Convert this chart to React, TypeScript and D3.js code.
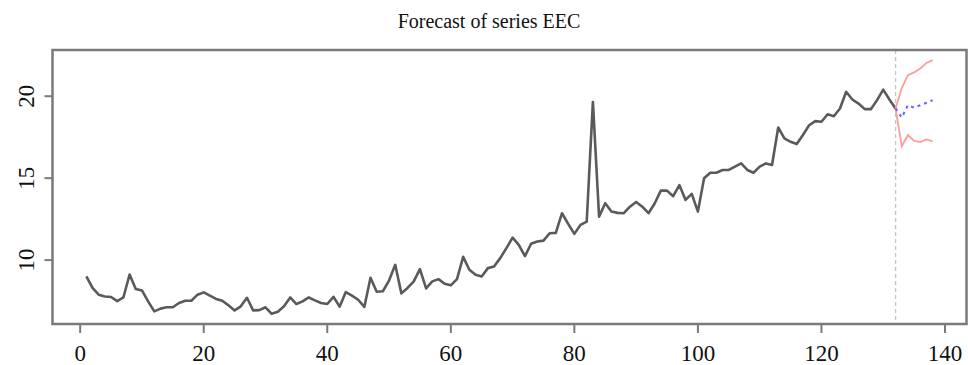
import React, { useEffect, useRef } from 'react';
import * as d3 from 'd3';

// observed series EEC, t = 1..132
const observed: number[] = [
    9.0, 8.3, 7.89, 7.78, 7.75, 7.5, 7.72, 9.12, 8.24, 8.15,
    7.48, 6.87, 7.04, 7.12, 7.12, 7.38, 7.52, 7.52, 7.89, 8.03,
    7.83, 7.63, 7.52, 7.24, 6.93, 7.18, 7.7, 6.93, 6.95, 7.12,
    6.72, 6.85, 7.18, 7.72, 7.32, 7.48, 7.72, 7.54, 7.38, 7.32,
    7.76, 7.16, 8.05, 7.83, 7.58, 7.14, 8.92, 8.07, 8.1, 8.75,
    9.71, 7.97, 8.3, 8.7, 9.45, 8.27, 8.7, 8.84, 8.56, 8.46,
    8.84, 10.2, 9.41, 9.1, 9.0, 9.51, 9.61, 10.12, 10.73, 11.37,
    10.93, 10.24, 11.0, 11.13, 11.19, 11.64, 11.66, 12.86, 12.21, 11.6,
    12.15, 12.35, 19.65, 12.65, 13.47, 12.96, 12.88, 12.86, 13.26, 13.55,
    13.26, 12.86, 13.45, 14.24, 14.24, 13.9, 14.58, 13.67, 14.04, 12.96,
    14.99, 15.33, 15.33, 15.5, 15.5, 15.7, 15.9, 15.5, 15.33, 15.7,
    15.9, 15.8, 18.09, 17.43, 17.22, 17.08, 17.63, 18.23, 18.48, 18.44,
    18.9, 18.78, 19.25, 20.27, 19.8, 19.55, 19.21, 19.21, 19.76, 20.4,
    19.8, 19.25
];

// forecast horizon t = 133..138
const forecastMean: number[] = [18.7, 19.45, 19.3, 19.45, 19.6, 19.76];
const forecastUpper: number[] = [20.5, 21.28, 21.45, 21.69, 22.03, 22.2];
const forecastLower: number[] = [16.95, 17.63, 17.27, 17.2, 17.36, 17.24];

const xTicks: number[] = [0, 20, 40, 60, 80, 100, 120, 140];
const yTicks: number[] = [10, 15, 20];

const title = 'Forecast of series EEC';

const App: React.FC = () => {
    const svgRef = useRef<SVGSVGElement>(null);

    useEffect(() => {
        if (!svgRef.current) return;

        d3.select(svgRef.current).selectAll('*').remove();

        const width = 968;
        const height = 365;
        const plot = { left: 52.5, right: 966.5, top: 50, bottom: 324 };
        const font = "'Liberation Serif', 'Times New Roman', serif";

        const n = observed.length;
        const hist: [number, number][] = observed.map((v, i) => [i + 1, v]);
        const last: [number, number] = [n, observed[n - 1]];
        const toPts = (arr: number[]): [number, number][] =>
            [last, ...arr.map((v, i) => [n + i + 1, v] as [number, number])];

        const mean = toPts(forecastMean);
        const upper = toPts(forecastUpper);
        const lower = toPts(forecastLower);

        // R style axis: 4% padding on each side
        const xMin = 1;
        const xMax = n + forecastMean.length;
        const xPad = (xMax - xMin) * 0.04;
        const allY = [...observed, ...forecastUpper, ...forecastLower];
        const yMin = d3.min(allY) as number;
        const yMax = d3.max(allY) as number;
        const yPad = (yMax - yMin) * 0.04;

        const x = d3.scaleLinear()
            .domain([xMin - xPad, xMax + xPad])
            .range([plot.left, plot.right]);
        const y = d3.scaleLinear()
            .domain([yMin - yPad, yMax + yPad])
            .range([plot.bottom, plot.top]);

        const line = d3.line<[number, number]>()
            .x(d => x(d[0]))
            .y(d => y(d[1]));

        const svg = d3.select(svgRef.current)
            .attr('width', width)
            .attr('height', height);

        svg.append('rect')
            .attr('width', width)
            .attr('height', height)
            .attr('fill', '#fff');

        // title
        svg.append('text')
            .attr('x', 489)
            .attr('y', 28)
            .attr('text-anchor', 'middle')
            .attr('font-family', font)
            .attr('font-size', 20)
            .attr('fill', '#111')
            .text(title);

        // forecast origin marker
        svg.append('line')
            .attr('x1', x(n)).attr('x2', x(n))
            .attr('y1', plot.top).attr('y2', plot.bottom)
            .attr('stroke', '#c4c4c4')
            .attr('stroke-width', 1.3)
            .attr('stroke-dasharray', '4,3');

        // observed series
        svg.append('path')
            .datum(hist)
            .attr('d', line)
            .attr('fill', 'none')
            .attr('stroke', '#5a5a5a')
            .attr('stroke-width', 2.6)
            .attr('stroke-linejoin', 'round');

        // prediction bands
        [upper, lower].forEach(band => {
            svg.append('path')
                .datum(band)
                .attr('d', line)
                .attr('fill', 'none')
                .attr('stroke', '#ff9c9c')
                .attr('stroke-width', 1.8);
        });

        // point forecast
        svg.append('path')
            .datum(mean)
            .attr('d', line)
            .attr('fill', 'none')
            .attr('stroke', '#6a6aff')
            .attr('stroke-width', 2.2)
            .attr('stroke-dasharray', '3,4');

        // box
        svg.append('rect')
            .attr('x', plot.left)
            .attr('y', plot.top)
            .attr('width', plot.right - plot.left)
            .attr('height', plot.bottom - plot.top)
            .attr('fill', 'none')
            .attr('stroke', '#7a7a7a')
            .attr('stroke-width', 2.5);

        // x axis
        const gx = svg.append('g');
        gx.selectAll('line')
            .data(xTicks)
            .enter()
            .append('line')
            .attr('x1', d => x(d)).attr('x2', d => x(d))
            .attr('y1', plot.bottom).attr('y2', plot.bottom + 9)
            .attr('stroke', '#7a7a7a')
            .attr('stroke-width', 2);
        gx.selectAll('text')
            .data(xTicks)
            .enter()
            .append('text')
            .attr('x', d => x(d))
            .attr('y', 361)
            .attr('text-anchor', 'middle')
            .attr('font-family', font)
            .attr('font-size', 23)
            .attr('fill', '#111')
            .text(d => d);

        // y axis
        const gy = svg.append('g');
        gy.selectAll('line')
            .data(yTicks)
            .enter()
            .append('line')
            .attr('x1', plot.left - 8).attr('x2', plot.left)
            .attr('y1', d => y(d)).attr('y2', d => y(d))
            .attr('stroke', '#7a7a7a')
            .attr('stroke-width', 2);
        gy.selectAll('text')
            .data(yTicks)
            .enter()
            .append('text')
            .attr('transform', d => `translate(33.5, ${y(d)}) rotate(-90)`)
            .attr('text-anchor', 'middle')
            .attr('font-family', font)
            .attr('font-size', 23)
            .attr('fill', '#111')
            .text(d => d);
    }, []);

    return (
        <div style={{ position: 'absolute', left: 0, top: 0 }}>
            <svg ref={svgRef} style={{ display: 'block' }}></svg>
        </div>
    );
};

export default App;
